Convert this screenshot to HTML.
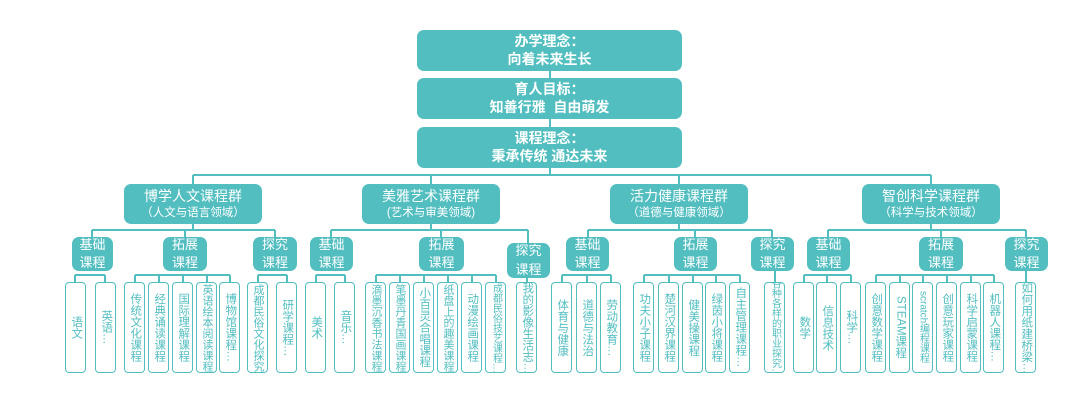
<!DOCTYPE html>
<html><head><meta charset="utf-8"><style>
body{margin:0;width:1080px;height:407px;background:#fff;position:relative;overflow:hidden;font-family:"Liberation Sans","Noto Sans CJK SC",sans-serif}
.b{position:absolute;background:#52bec0;color:#fff;border-radius:7px;display:flex;flex-direction:column;align-items:center;justify-content:center;text-align:center;line-height:1.25}
.t{font-size:14px;font-weight:bold}
.g{font-size:14px}.g small{font-size:11.5px}
.s{font-size:13px;line-height:1.4}
.l{position:absolute;top:282px;height:89px;width:19px;border:1.5px solid #52bec0;border-radius:4px;background:#fff;color:#52bec0;font-size:11.5px;writing-mode:vertical-rl;display:flex;align-items:center;justify-content:center;line-height:1;overflow:hidden;white-space:nowrap}
svg{position:absolute;left:0;top:0}
</style></head><body>
<svg width="1080" height="407" stroke="#52bec0" stroke-width="2" fill="none">
<path d="M550 71V78M550 119V127M550 168V175M193 175H931M193 175V184M431 175V184M679 175V184M931 175V184"/>
<path d="M193 224V230M92 230H275M92 230V237M185 230V237M275 230V237M75 275H105M75 275V282M105 275V282M135 275H230M135 275V282M159 275V282M183 275V282M207 275V282M230 275V282M258 275H287M258 275V282M287 275V282"/>
<path d="M431 224V230M331 230H528M331 230V237M441 230V237M528 230V243M316 275H345M316 275V282M345 275V282M376 275H496M376 275V282M400 275V282M424 275V282M448 275V282M472 275V282M496 275V282M527 278V282"/>
<path d="M679 224V230M588 230H772M588 230V237M695 230V237M772 230V237M562 275H611M562 275V282M587 275V282M611 275V282M644 275H740M644 275V282M669 275V282M693 275V282M716 275V282M740 275V282M775 271V282"/>
<path d="M931 224V230M828 230H1026M828 230V237M941 230V237M1026 230V237M804 275H851M804 275V282M827 275V282M851 275V282M876 275H994M876 275V282M900 275V282M923 275V282M947 275V282M971 275V282M994 275V282M1026 271V282"/>
</svg>
<div class="b t" style="left:417px;top:30px;width:265px;height:41px">办学理念：<br>向着未来生长</div>
<div class="b t" style="left:417px;top:78px;width:265px;height:41px">育人目标：<br>知善行雅&nbsp; 自由萌发</div>
<div class="b t" style="left:417px;top:127px;width:265px;height:41px">课程理念：<br>秉承传统 通达未来</div>
<div class="b g" style="left:124px;top:184px;width:138px;height:40px">博学人文课程群<small>（人文与语言领域）</small></div>
<div class="b g" style="left:362px;top:184px;width:138px;height:40px">美雅艺术课程群<small>(艺术与审美领域)</small></div>
<div class="b g" style="left:610px;top:184px;width:138px;height:40px">活力健康课程群<small>（道德与健康领域）</small></div>
<div class="b g" style="left:862px;top:184px;width:138px;height:40px">智创科学课程群<small>（科学与技术领域）</small></div>
<div class="b s" style="left:72px;top:237px;width:41px;height:34px">基础<br>课程</div>
<div class="b s" style="left:163px;top:237px;width:44px;height:34px">拓展<br>课程</div>
<div class="b s" style="left:253px;top:237px;width:44px;height:34px">探究<br>课程</div>
<div class="b s" style="left:310px;top:237px;width:43px;height:34px">基础<br>课程</div>
<div class="b s" style="left:419px;top:237px;width:45px;height:34px">拓展<br>课程</div>
<div class="b s" style="left:507px;top:243px;width:43px;height:35px">探究<br>课程</div>
<div class="b s" style="left:566px;top:237px;width:43px;height:34px">基础<br>课程</div>
<div class="b s" style="left:674px;top:237px;width:43px;height:34px">拓展<br>课程</div>
<div class="b s" style="left:751px;top:237px;width:43px;height:34px">探究<br>课程</div>
<div class="b s" style="left:807px;top:237px;width:43px;height:34px">基础<br>课程</div>
<div class="b s" style="left:919px;top:237px;width:44px;height:34px">拓展<br>课程</div>
<div class="b s" style="left:1005px;top:237px;width:43px;height:34px">探究<br>课程</div>

<div class="l" style="left:65px">语文</div>
<div class="l" style="left:95px">英语…</div>
<div class="l" style="left:124px">传统文化课程</div>
<div class="l" style="left:148px">经典诵读课程</div>
<div class="l" style="left:172px">国际理解课程</div>
<div class="l" style="left:196px;font-size:11px">英语绘本阅读课程</div>
<div class="l" style="left:219px">博物馆课程…</div>
<div class="l" style="left:247px;font-size:11px">成都民俗文化探究</div>
<div class="l" style="left:276px">研学课程…</div>
<div class="l" style="left:305px">美术</div>
<div class="l" style="left:334px">音乐…</div>
<div class="l" style="left:365px;font-size:11px">滴墨沉香书法课程</div>
<div class="l" style="left:389px;font-size:11px">笔墨丹青国画课程</div>
<div class="l" style="left:413px">小百灵合唱课程</div>
<div class="l" style="left:437px;font-size:11px">纸盘上的趣美课程</div>
<div class="l" style="left:461px">动漫绘画课程</div>
<div class="l" style="left:485px;font-size:10px">成都民俗技艺课程…</div>
<div class="l" style="left:516px">我的影像生活志…</div>
<div class="l" style="left:551px">体育与健康</div>
<div class="l" style="left:576px">道德与法治</div>
<div class="l" style="left:600px">劳动教育…</div>
<div class="l" style="left:633px">功夫小子课程</div>
<div class="l" style="left:658px">楚河汉界课程</div>
<div class="l" style="left:682px">健美操课程</div>
<div class="l" style="left:705px">绿茵小将课程</div>
<div class="l" style="left:729px">自主管理课程…</div>
<div class="l" style="left:764px;font-size:10px">各种各样的职业探究…</div>
<div class="l" style="left:793px">数学</div>
<div class="l" style="left:816px">信息技术</div>
<div class="l" style="left:840px">科学…</div>
<div class="l" style="left:865px">创意数学课程</div>
<div class="l" style="left:889px">STEAM课程</div>
<div class="l" style="left:912px;font-size:10px">scratch编程课程</div>
<div class="l" style="left:936px">创意玩家课程</div>
<div class="l" style="left:960px">科学启蒙课程</div>
<div class="l" style="left:983px">机器人课程…</div>
<div class="l" style="left:1015px">如何用纸建桥梁…</div>
</body></html>
